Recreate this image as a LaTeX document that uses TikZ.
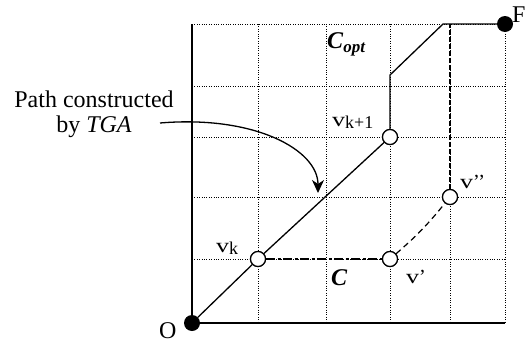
\documentclass[tikz,border=0pt]{standalone}
\usepackage{fontspec}
\setmainfont{Liberation Serif}
\usetikzlibrary{arrows.meta}
\begin{document}
\begin{tikzpicture}[x=1pt,y=-1pt,
  gridline/.style={line width=0.8pt,dash pattern=on 1pt off 1.4pt},
  axisline/.style={line width=1.8pt},
  pathline/.style={line width=1.3pt},
  openv/.style={circle,draw,line width=1.2pt,fill=white,minimum size=15pt,inner sep=0pt},
  fullv/.style={circle,fill=black,minimum size=16pt,inner sep=0pt},
  vlab/.style={inner sep=0pt,anchor=base west,font=\fontsize{20}{22}\selectfont},
  biglab/.style={inner sep=0pt,anchor=base west,font=\fontsize{24}{26}\selectfont},
  ]
\useasboundingbox (0,0) rectangle (525,343);
% grid
\foreach \x in {258,326,390,450,505} \draw[gridline] (\x,24) -- (\x,323);
\foreach \y in {24,86,137,197,259} \draw[gridline] (192,\y) -- (505,\y);
% axes
\draw[axisline] (192,24) -- (192,323) -- (505,323);
% vertices
\node[fullv] (O) at (192,323) {};
\node[fullv] (F) at (505,24) {};
\node[openv] (vk) at (258,259) {};
\node[openv] (vk1) at (390,137) {};
\node[openv] (vp) at (390,259) {};
\node[openv] (vpp) at (450,197) {};
\coordinate (c1) at (390,75);
\coordinate (c2) at (443,24);
\coordinate (t450) at (450,24);
% paths
\draw[pathline] (O) -- (vk) -- (vk1) -- (c1) -- (c2) -- (F);
\draw[line width=1.3pt,dash pattern=on 9pt off 2.5pt on 3pt off 2.5pt] (vk) -- (vp);
\draw[line width=1.2pt,dash pattern=on 6pt off 4pt] (vp) to[bend right=5] (vpp);
\draw[line width=1.2pt,dash pattern=on 5pt off 2pt] (vpp) -- (t450);
% redraw circles on top
\node[openv] at (vk) {};
\node[openv] at (vk1) {};
\node[openv] at (vp) {};
\node[openv] at (vpp) {};
% labels
\node[vlab] (lvk) at (216,252) {\scalebox{1.3}[1]{v}\raisebox{-2pt}{\fontsize{18}{18}\selectfont k}};
\node[vlab] (lvk1) at (332,126) {\scalebox{1.3}[1]{v}\raisebox{-2pt}{\fontsize{18}{18}\selectfont k+1}};
\node[vlab] (lvpp) at (460,188) {\scalebox{1.3}[1]{v}’’};
\node[vlab] (lvp) at (406,283) {\scalebox{1.3}[1]{v}’};
\node[biglab] (lcopt) at (327,48) {\textbf{\textit{C}}\raisebox{-4pt}{\fontsize{17}{17}\selectfont\textbf{\textit{opt}}}};
\node[biglab] (lc) at (331,285) {\textbf{\textit{C}}};
\node[biglab] (lO) at (159,338) {O};
\node[biglab] (lF) at (512,22) {F};
\node[align=center,inner sep=0pt,font=\fontsize{24}{25}\selectfont] (txt) at (94,114) {Path constructed\\by \textit{TGA}};
\coordinate (astart) at (160,123);
\coordinate (aend) at (318,193);
\draw[line width=1.3pt,-{Stealth[length=13pt,width=12pt,inset=4pt]}] (astart) .. controls (255,115) and (318,150) .. (aend);
\end{tikzpicture}
\end{document}
